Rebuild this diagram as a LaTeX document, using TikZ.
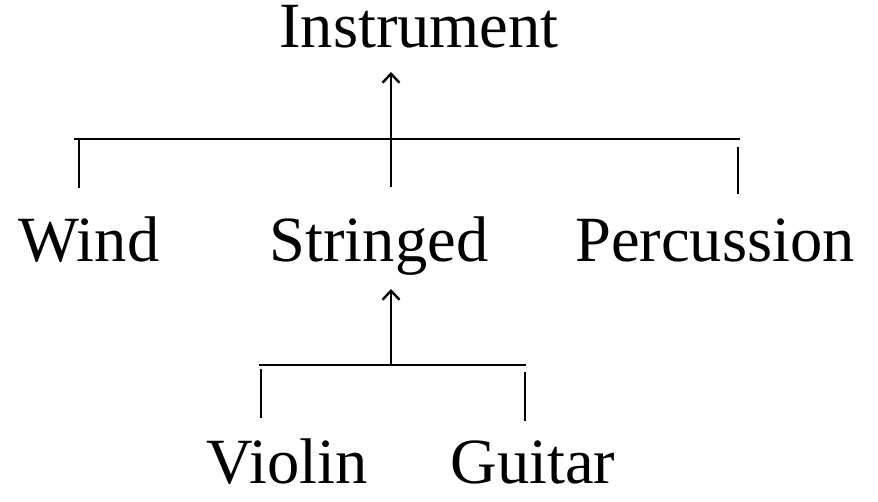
\documentclass[tikz,border=0pt]{standalone}
\usepackage{fontspec}
\setmainfont{Liberation Serif}
\usetikzlibrary{arrows.meta}

\begin{document}
\begin{tikzpicture}[
    x=1pt, y=-1pt,
    term/.style={anchor=base, inner sep=0pt, text height=0.68em, text depth=0.22em,
      font=\fontsize{64.5}{70}\selectfont},
    branch/.style={line width=2.4pt},
    uparrow/.style={line width=2.4pt, -{Straight Barb[length=9pt, width=17pt, line width=2.4pt]}}
  ]
    \useasboundingbox (0,0) rectangle (878,502);
    % labels
    \node[term] (instr) at (419,48) {Instrument};
    \node[term] (wind) at (89,262) {Wind};
    \node[term] (string) at (379,262) {Stringed};
    \node[term] (perc) at (715,262) {Percussion};
    \node[term] (violin) at (287,483) {Violin};
    \node[term] (guitar) at (533,483) {Guitar};
    % junction points
    \coordinate (barA) at (391,139);
    \coordinate (tipA) at (391,72);
    \coordinate (barB) at (391,365);
    \coordinate (tipB) at (391,289);
    % upper level
    \draw[branch] (74,139) -- (740,139);
    \draw[branch] (79,139) -- (79,188);
    \draw[branch] (738,147) -- (738,194);
    \draw[uparrow] (391,187) -- (tipA);
    % lower level
    \draw[branch] (259,365) -- (526,365);
    \draw[branch] (261,369) -- (261,418);
    \draw[branch] (525,372) -- (525,421);
    \draw[uparrow] (barB) -- (tipB);
  \end{tikzpicture}
\end{document}
